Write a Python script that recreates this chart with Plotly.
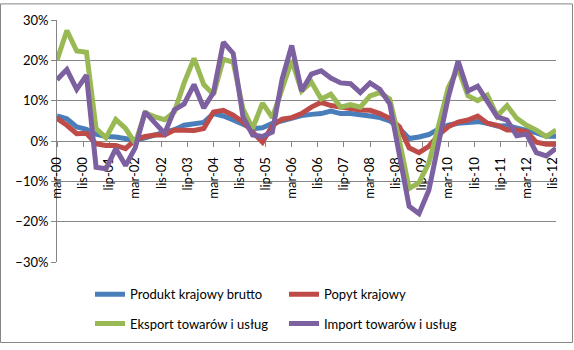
import pandas as pd
import plotly.graph_objects as go

# Quarterly observations, Q1 2000 .. Q4 2012 (plotted at mar, cze, wrz, gru)
quarter_dates = pd.date_range("2000-03-01", periods=52, freq="3MS")

tick_dates = pd.date_range("2000-03-01", periods=20, freq="8MS")
tick_labels = ["mar-00", "lis-00", "lip-01", "mar-02", "lis-02", "lip-03", "mar-04",
               "lis-04", "lip-05", "mar-06", "lis-06", "lip-07", "mar-08", "lis-08",
               "lip-09", "mar-10", "lis-10", "lip-11", "mar-12", "lis-12"]

pkb = [6.2, 5.5, 3.5, 2.9, 1.7, 1.1, 1.0, 0.5, 0.2, 0.8, 1.5, 2.1, 2.8, 3.9, 4.2, 4.6,
       6.8, 6.2, 5.2, 4.3, 3.1, 3.3, 4.4, 5.0, 5.8, 6.3, 6.6, 6.8, 7.4, 6.8, 6.8, 6.6,
       6.2, 5.8, 5.0, 3.1, 0.6, 1.0, 1.6, 3.0, 3.9, 4.4, 4.7, 4.8, 4.4, 3.7, 3.8, 3.3,
       2.7, 2.0, 1.2, 1.2]
popyt = [5.6, 3.9, 1.8, 1.9, -0.7, -1.1, -1.1, -1.9, 0.3, 1.1, 1.5, 1.5, 2.7, 2.7, 2.6, 3.1,
         7.2, 7.6, 6.4, 4.7, 2.3, -0.3, 3.8, 5.4, 5.8, 6.8, 8.4, 9.6, 8.8, 8.4, 8.0, 7.7,
         7.6, 6.8, 5.6, 3.5, -1.7, -2.9, -1.3, 1.5, 3.5, 4.7, 5.2, 6.2, 4.4, 3.9, 2.7, 2.7,
         2.3, -0.3, -0.8, -0.8]
eksport = [20.0, 27.4, 22.3, 22.0, 3.1, 0.8, 5.3, 3.1, -0.5, 7.0, 6.0, 5.3, 7.2, 14.4, 20.5, 14.0,
           11.5, 20.3, 19.5, 8.0, 3.1, 9.4, 5.8, 13.0, 20.0, 12.4, 14.6, 10.4, 11.6, 8.4, 9.0, 8.4,
           11.2, 12.0, 10.4, 0.0, -11.8, -10.3, -5.5, 3.8, 13.2, 18.0, 11.2, 10.0, 11.4, 6.2, 8.8, 5.6,
           3.9, 2.7, 1.1, 2.7]
import_ = [15.2, 17.7, 12.8, 16.3, -6.5, -6.9, -1.9, -6.1, -1.7, 7.2, 4.5, 1.9, 7.7, 9.2, 14.0, 8.2,
           12.0, 24.5, 21.7, 6.0, 1.5, 1.1, 2.2, 15.3, 23.7, 12.4, 16.6, 17.4, 15.6, 14.4, 14.2, 12.0,
           14.4, 12.8, 9.2, -3.0, -16.2, -18.0, -12.2, -0.5, 10.8, 19.8, 12.4, 13.6, 10.0, 6.0, 5.2, 1.3,
           1.7, -2.9, -3.7, -1.8]

series_names = ["Produkt krajowy brutto", "Popyt krajowy",
                "Eksport towarów i usług", "Import towarów i usług"]
series_values = [pkb, popyt, eksport, import_]
colors = ["#4A7EBB", "#BE4B48", "#98B954", "#7D60A0"]

W, H = 574, 350
ML, MR, MT, MB = 57, 18, 17, 85
pw, ph = W - ML - MR, H - MT - MB

def px_x(x):
    return (x - ML) / pw

def px_y(y):
    return (H - MB - y) / ph

legend_pos = [(90, 298), (284, 298), (90, 328), (284, 328)]
legend_keys = ["legend", "legend2", "legend3", "legend4"]

fig = go.Figure()
for name, vals, col, lk in zip(series_names, series_values, colors, legend_keys):
    fig.add_trace(go.Scatter(
        x=quarter_dates, y=vals, mode="lines", name=name,
        line=dict(color=col, width=5, shape="linear"),
        legend=lk, hoverinfo="skip",
    ))

font_family = "Lato, 'Liberation Sans', sans-serif"
layout_legends = {}
for lk, (lx, ly) in zip(legend_keys, legend_pos):
    layout_legends[lk] = dict(
        x=px_x(lx), y=px_y(ly), xanchor="left", yanchor="middle",
        orientation="h", bgcolor="rgba(0,0,0,0)",
        font=dict(family=font_family, size=13, color="#000000"),
        itemwidth=30,
    )

fig.update_layout(
    width=W, height=H,
    margin=dict(l=ML, r=MR, t=MT, b=MB, pad=0),
    paper_bgcolor="white", plot_bgcolor="white",
    showlegend=True,
    font=dict(family=font_family, size=13, color="#000000"),
    **layout_legends,
)

fig.update_xaxes(
    type="date",
    range=[quarter_dates[0], quarter_dates[-1]],
    tickmode="array", tickvals=tick_dates, ticktext=tick_labels,
    tickangle=-90, ticks="outside", ticklen=5, tickcolor="#868686",
    ticklabelstandoff=5,
    showgrid=False, zeroline=False,
    showline=True, linecolor="#868686", linewidth=1,
    anchor="free", position=0.5,
    layer="below traces",
    tickfont=dict(family=font_family, size=13, color="#000000"),
)
fig.update_yaxes(
    range=[-30, 30], dtick=10, tick0=0, ticksuffix="%",
    ticks="outside", ticklen=5, tickcolor="#868686",
    showgrid=True, gridcolor="#868686", gridwidth=1,
    zeroline=False, showline=True, linecolor="#868686", linewidth=1,
    layer="below traces",
    tickfont=dict(family=font_family, size=13, color="#000000"),
)

# outer chart border
fig.add_shape(type="rect", xref="paper", yref="paper",
              x0=px_x(0.5), x1=px_x(572.5), y0=px_y(347.5), y1=px_y(0.5),
              line=dict(color="#868686", width=1), fillcolor="rgba(0,0,0,0)",
              layer="below")

fig.write_html("out.html")
